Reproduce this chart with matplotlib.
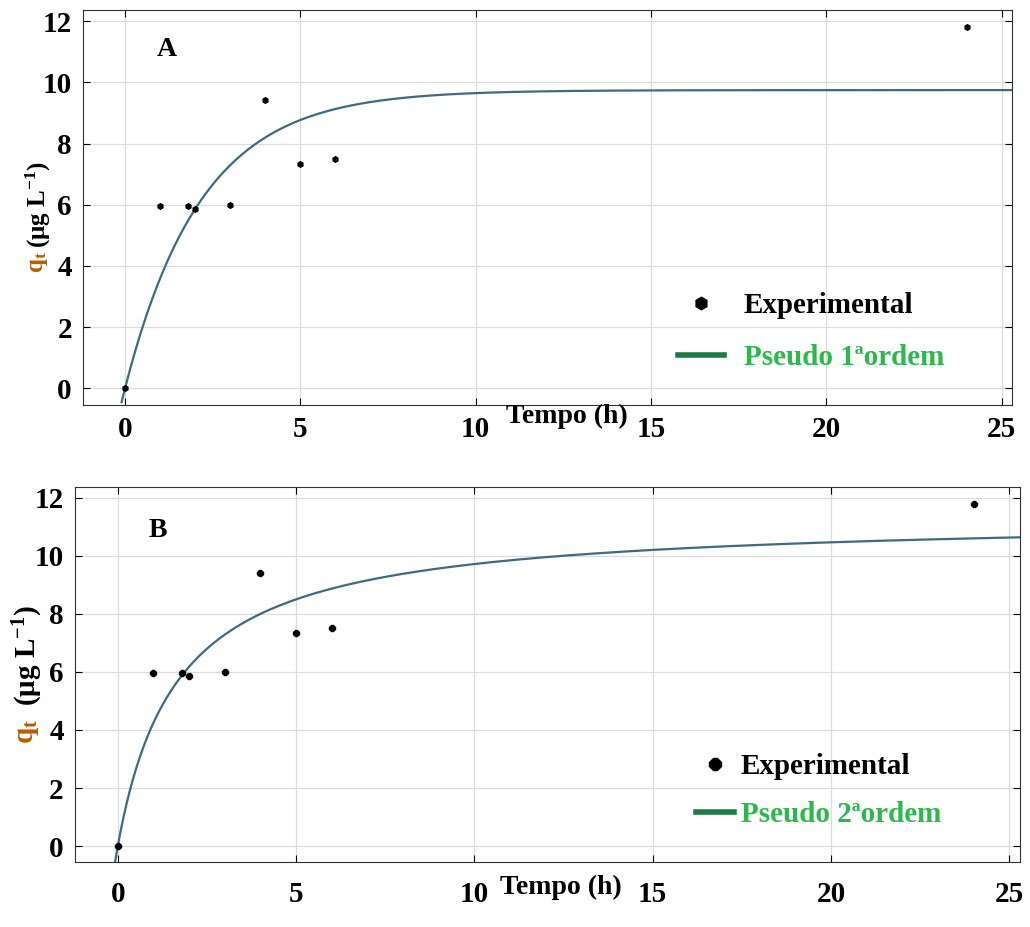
import numpy as np
import matplotlib.pyplot as plt
from matplotlib.lines import Line2D

plt.rcParams['font.family'] = ['Liberation Serif', 'DejaVu Serif']
plt.rcParams['font.weight'] = 'bold'
plt.rcParams['mathtext.fontset'] = 'custom'
plt.rcParams['mathtext.rm'] = 'Liberation Serif:bold'
plt.rcParams['mathtext.it'] = 'Liberation Serif:bold'
plt.rcParams['mathtext.bf'] = 'Liberation Serif:bold'

# dados experimentais
tempo = [0, 1, 1.8, 2, 3, 4, 5, 6, 24]
qt = [0, 5.95, 5.95, 5.87, 6.0, 9.42, 7.33, 7.5, 11.8]

# parametros dos modelos ajustados
qe1, k1 = 9.75, 0.46      # pseudo 1a ordem
qe2, k2 = 11.34, 0.0528   # pseudo 2a ordem

xticks = [0, 5, 10, 15, 20, 25]
yticks = [0, 2, 4, 6, 8, 10, 12]

t = np.linspace(-0.1, 25.3, 600)
q1 = qe1 * (1 - np.exp(-k1 * t))
q2 = qe2 ** 2 * k2 * t / (1 + qe2 * k2 * t)

curve_col = '#3f6a80'
leg_line = '#1d7a43'
leg_text = '#2db84c'
label_col = '#b85c00'

fig = plt.figure(figsize=(10.3, 9.27), dpi=100)
ax1 = fig.add_axes([0.0806, 0.5631, 0.902, 0.4261])
ax2 = fig.add_axes([0.0728, 0.0701, 0.9175, 0.4045])

# config. de cada painel (posicoes em fracao do eixo)
paineis = [
    dict(ax=ax1, q=q1, letra='A', nome='Pseudo 1ªordem', mk='h',
         lpos=(0.09, 0.899), tpos=(0.521, -0.028), gpos=(0.6125, 0.352),
         pad=8, fs=21, hl=1.55, htp=0.69, ls=0.86),
    dict(ax=ax2, q=q2, letra='B', nome='Pseudo 2ªordem', mk='8',
         lpos=(0.088, 0.885), tpos=(0.514, -0.069), gpos=(0.629, 0.36),
         pad=14, fs=21, hl=1.3, htp=0.25, ls=0.72),
]

for p in paineis:
    ax = p['ax']
    ax.plot(t, p['q'], color=curve_col, lw=1.6, zorder=3)
    ax.plot(tempo, qt, ls='none', marker=p['mk'], ms=4, color='black', zorder=4)
    ax.set_xlim(-1.2, 25.3)
    ax.set_ylim(-0.55, 12.37)
    ax.set_xticks(xticks)
    ax.set_yticks(yticks)
    ax.grid(True, color='#dcdcdc', lw=0.9)
    ax.tick_params(direction='in', top=True, right=True, labelsize=21,
                   length=5)
    ax.tick_params(axis='x', pad=p['pad'])
    ax.tick_params(axis='y', pad=8)
    for s in ax.spines.values():
        s.set_color('#333333')
    ax.text(p['lpos'][0], p['lpos'][1], p['letra'], transform=ax.transAxes,
            fontsize=20, fontweight='bold', va='center', ha='center')
    ax.text(p['tpos'][0], p['tpos'][1], 'Tempo (h)', transform=ax.transAxes,
            fontsize=20, fontweight='bold', ha='center', va='center')
    hs = [Line2D([], [], ls='none', marker=p['mk'], ms=9, color='black'),
          Line2D([], [], color=leg_line, lw=4)]
    leg = ax.legend(hs, ['Experimental', p['nome']], loc='upper left',
                    bbox_to_anchor=p['gpos'], frameon=False,
                    handlelength=p['hl'], handletextpad=p['htp'],
                    labelspacing=p['ls'],
                    prop={'family': 'Liberation Serif', 'weight': 'bold',
                          'size': p['fs']})
    leg.get_texts()[1].set_color(leg_text)

# rotulo do eixo y em duas cores
fig.text(0.037, 0.717, r'q$_t$', rotation=90, color=label_col, fontsize=18,
         ha='center', va='center')
fig.text(0.037, 0.779, r'(μg L$^{-1}$)', rotation=90, color='black',
         fontsize=18, ha='center', va='center')
fig.text(0.027, 0.211, r'q$_t$', rotation=90, color=label_col, fontsize=21,
         ha='center', va='center')
fig.text(0.027, 0.293, r'(μg L$^{-1}$)', rotation=90, color='black',
         fontsize=21, ha='center', va='center')

fig.savefig('out.png', dpi=100)
